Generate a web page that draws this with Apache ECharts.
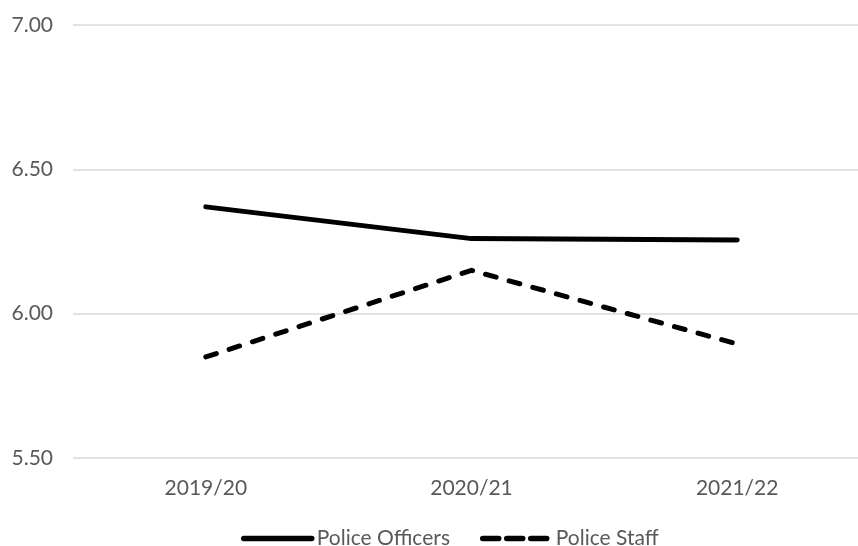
<!DOCTYPE html>
<html>
<head>
<meta charset="utf-8">
<script src="https://cdn.jsdelivr.net/npm/echarts@6/dist/echarts.min.js"></script>
<style>
  html, body { margin: 0; padding: 0; background: #fff; }
  #chart { width: 858px; height: 546px; }
</style>
</head>
<body>
<div id="chart"></div>
<script>
// Financial years on the category axis
const years = ['2019/20', '2020/21', '2021/22'];
// Average values per year for each workforce group
const policeOfficers = [6.37, 6.26, 6.255];
const policeStaff = [5.85, 6.15, 5.895];
// Value axis range
const yMin = 5.5;
const yMax = 7.0;
const yStep = 0.5;

const textColor = '#595959';
const fontFamily = 'Lato, "Open Sans", sans-serif';

const chart = echarts.init(document.getElementById('chart'), null, { renderer: 'canvas' });

chart.setOption({
  animation: false,
  backgroundColor: '#ffffff',
  grid: { left: 73, width: 797, top: 25, bottom: 88, containLabel: false, outerBoundsMode: 'none' },
  legend: {
    left: 236,
    top: 523,
    itemWidth: 68,
    itemHeight: 14,
    itemGap: 30,
    itemStyle: { opacity: 0 },
    lineStyle: { width: 5.5, cap: 'round' },
    textStyle: { color: textColor, fontSize: 21, fontFamily: fontFamily },
    data: [
      { name: 'Police Officers' },
      { name: 'Police Staff', lineStyle: { width: 5.5, type: [16, 8], cap: 'round' } }
    ]
  },
  xAxis: {
    type: 'category',
    data: years,
    boundaryGap: true,
    axisLine: { show: false },
    axisTick: { show: false },
    axisLabel: { color: textColor, fontSize: 21, fontFamily: fontFamily, margin: 20 }
  },
  yAxis: {
    type: 'value',
    min: yMin,
    max: yMax,
    interval: yStep,
    axisLine: { show: false },
    axisTick: { show: false },
    axisLabel: {
      color: textColor, fontSize: 21, fontFamily: fontFamily, margin: 20,
      formatter: v => v.toFixed(2)
    },
    splitLine: { lineStyle: { color: '#d9d9d9', width: 1.5 } }
  },
  series: [
    {
      name: 'Police Officers',
      type: 'line',
      data: policeOfficers,
      symbol: 'none',
      lineStyle: { color: '#000000', width: 5, cap: 'round', join: 'round' },
      itemStyle: { color: '#000000' }
    },
    {
      name: 'Police Staff',
      type: 'line',
      data: policeStaff,
      symbol: 'none',
      lineStyle: { color: '#000000', width: 5, type: [11, 13.5], cap: 'round', join: 'round' },
      itemStyle: { color: '#000000' }
    }
  ]
});
</script>
</body>
</html>
